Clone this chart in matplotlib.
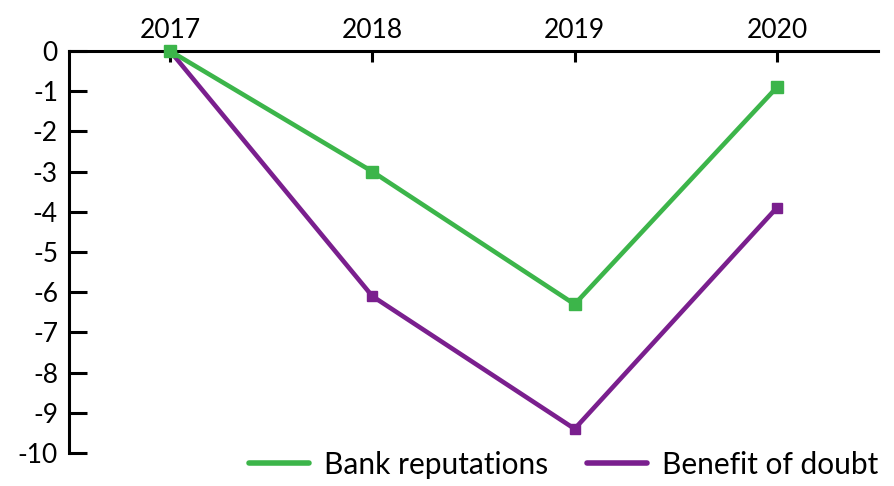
import matplotlib.pyplot as plt

years = [2017, 2018, 2019, 2020]
bank_reputations = [0, -3.0, -6.3, -0.9]
benefit_of_doubt = [0, -6.1, -9.4, -3.9]
y_ticks = list(range(0, -11, -1))

plt.rcParams['font.family'] = ['Lato', 'DejaVu Sans']

fig = plt.figure(figsize=(8.94, 4.86), dpi=100)
ax = fig.add_axes([69 / 894, 1 - 453 / 486, (878 - 69) / 894, (453 - 51) / 486])

green = '#3cb54a'
purple = '#7a1f8e'

ax.plot(years, benefit_of_doubt, color=purple, lw=3.3, marker='s', ms=7,
        label='Benefit of doubt', zorder=3, clip_on=False)
ax.plot(years, bank_reputations, color=green, lw=3.3, marker='s', ms=9,
        label='Bank reputations', zorder=4, clip_on=False)

ax.set_xlim(2016.5, 2020.5)
ax.set_ylim(-10, 0)
ax.set_xticks(years)
ax.set_yticks(y_ticks)
ax.set_yticklabels([str(v) for v in y_ticks])

ax.xaxis.tick_top()
for side in ['bottom', 'right']:
    ax.spines[side].set_visible(False)
for side in ['top', 'left']:
    ax.spines[side].set_linewidth(2.2)

ax.tick_params(axis='y', direction='in', length=13, width=2.2, labelsize=19, pad=8)
ax.tick_params(axis='x', direction='in', length=8, width=2.2, labelsize=19, pad=6)

handles, labels = ax.get_legend_handles_labels()
leg = fig.legend(handles[::-1], labels[::-1], loc='lower right', ncol=2,
                 bbox_to_anchor=(1.012, -0.04), frameon=False, fontsize=21.5,
                 handlelength=2.0, handletextpad=0.5, columnspacing=1.3)
for line in leg.get_lines():
    line.set_marker('')
    line.set_linewidth(4)
    line.set_solid_capstyle('round')

fig.savefig('out.png', dpi=100)
